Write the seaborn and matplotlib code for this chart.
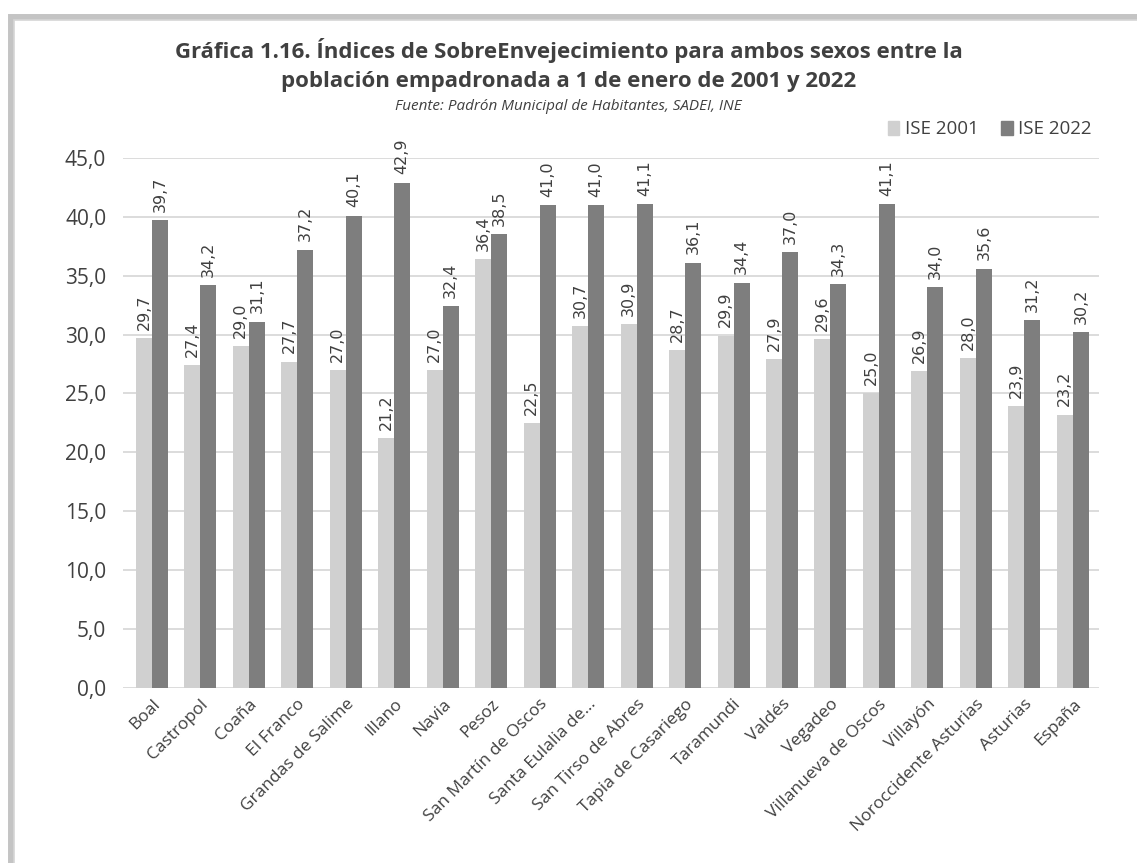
import pandas as pd
import matplotlib
matplotlib.use("Agg")
import matplotlib.pyplot as plt
import seaborn as sns
from matplotlib.ticker import FuncFormatter
from matplotlib.patches import Rectangle

municipios = ["Boal", "Castropol", "Coaña", "El Franco", "Grandas de Salime",
              "Illano", "Navia", "Pesoz", "San Martín de Oscos", "Santa Eulalia de...",
              "San Tirso de Abres", "Tapia de Casariego", "Taramundi", "Valdés",
              "Vegadeo", "Villanueva de Oscos", "Villayón", "Noroccidente Asturias",
              "Asturias", "España"]
ise_2001 = [29.7, 27.4, 29.0, 27.7, 27.0, 21.2, 27.0, 36.4, 22.5, 30.7,
            30.9, 28.7, 29.9, 27.9, 29.6, 25.0, 26.9, 28.0, 23.9, 23.2]
ise_2022 = [39.7, 34.2, 31.1, 37.2, 40.1, 42.9, 32.4, 38.5, 41.0, 41.0,
            41.1, 36.1, 34.4, 37.0, 34.3, 41.1, 34.0, 35.6, 31.2, 30.2]
series = ["ISE 2001", "ISE 2022"]
colores = ["#d0d0d0", "#7e7e7e"]

df = pd.DataFrame({
    "municipio": municipios * 2,
    "serie": [series[0]] * len(municipios) + [series[1]] * len(municipios),
    "valor": ise_2001 + ise_2022,
})

sns.set_theme(style="white")
plt.rcParams["font.family"] = ["Open Sans", "DejaVu Sans"]

fig = plt.figure(figsize=(11.37, 8.63), dpi=100)
# marco del gráfico con sombra
fig.patches.append(Rectangle((0.010, -0.02), 1.0, 1.0, transform=fig.transFigure,
                             facecolor="none", edgecolor="#c4c4c4", lw=5, zorder=-10))
fig.patches.append(Rectangle((0.012, -0.02), 1.0, 0.997, transform=fig.transFigure,
                             facecolor="white", edgecolor="#d6d6d6", lw=1.2, zorder=-9))

ax = fig.add_axes([0.108, 0.203, 0.859, 0.614])
ax.patch.set_alpha(0)
sns.barplot(data=df, x="municipio", y="valor", hue="serie", palette=colores,
            width=0.66, ax=ax, edgecolor="none", legend=False)

# etiquetas de valor
for cont in ax.containers:
    ax.bar_label(cont, labels=[f"{v:.1f}".replace(".", ",") for v in cont.datavalues],
                 rotation=90, padding=6, fontsize=11.5, color="#404040",
                 family="DejaVu Sans")

ax.set_ylim(0, 45)
ax.set_yticks(range(0, 46, 5))
ax.yaxis.set_major_formatter(FuncFormatter(lambda v, p: f"{v:.1f}".replace(".", ",")))
ax.tick_params(axis="y", labelsize=15, colors="#404040", length=0, pad=12)
ax.tick_params(axis="x", labelsize=12.5, colors="#404040", length=0, pad=6)
plt.setp(ax.get_xticklabels(), rotation=45, ha="right", rotation_mode="anchor")
ax.grid(axis="y", color="#d9d9d9", lw=1.3)
ax.set_axisbelow(True)
for s in ax.spines.values():
    s.set_visible(False)
ax.set_xlabel("")
ax.set_ylabel("")
ax.set_xlim(-0.6, len(municipios) - 0.45)

fig.text(0.5, 0.933, "Gráfica 1.16. Índices de SobreEnvejecimiento para ambos sexos entre la",
         ha="center", fontsize=16, fontweight="bold", color="#404040")
fig.text(0.5, 0.899, "población empadronada a 1 de enero de 2001 y 2022",
         ha="center", fontsize=16, fontweight="bold", color="#404040")
fig.text(0.5, 0.872, "Fuente: Padrón Municipal de Habitantes, SADEI, INE",
         ha="center", fontsize=11, style="italic", color="#404040")

handles = [Rectangle((0, 0), 1, 1, color=c) for c in colores]
fig.legend(handles, series, loc="upper right", bbox_to_anchor=(0.975, 0.88),
           ncol=2, frameon=False, fontsize=13.5, handlelength=0.6, handleheight=0.8,
           handletextpad=0.3, columnspacing=1.2, labelcolor="#404040")

fig.savefig("out.png", dpi=100, facecolor="white")
